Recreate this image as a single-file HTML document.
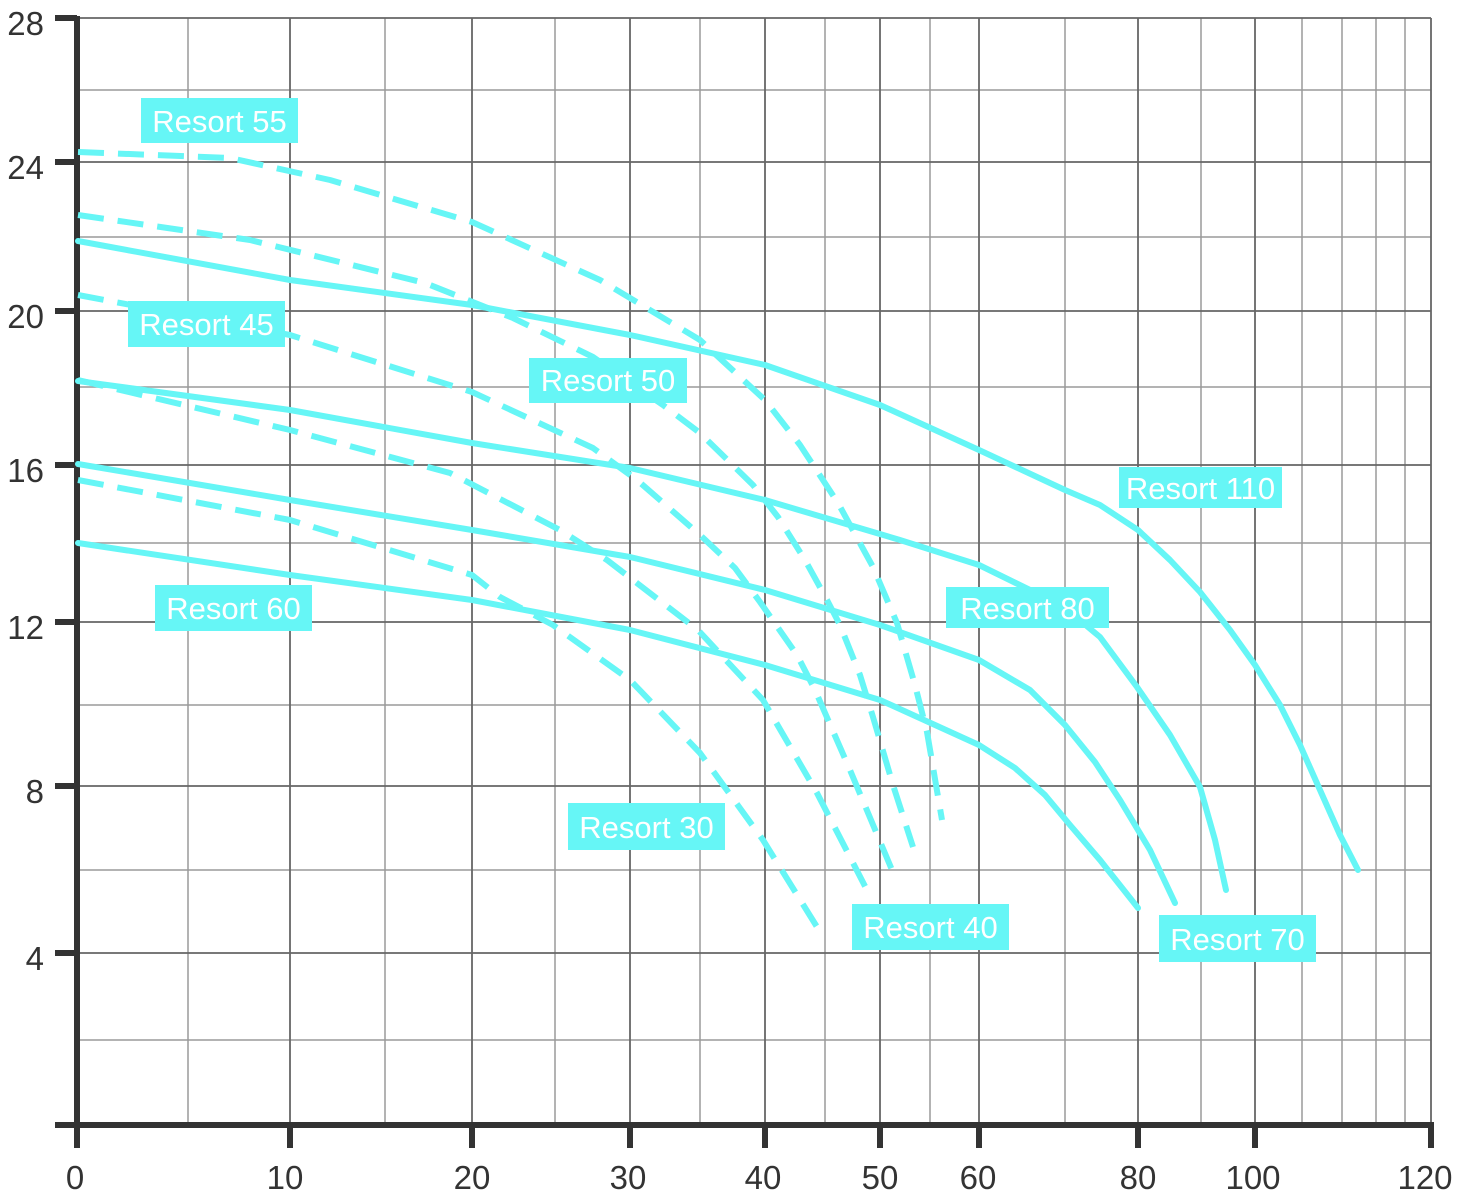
<!DOCTYPE html>
<html><head><meta charset="utf-8"><style>
html,body{margin:0;padding:0;background:#fff;}
svg{display:block;}
</style></head><body>
<svg width="1466" height="1200" viewBox="0 0 1466 1200" xmlns="http://www.w3.org/2000/svg">
<g stroke="#9a9a9a" stroke-width="1.5" fill="none">
<path d="M188 18V1125M385 18V1125M555 18V1125M700 18V1125M825 18V1125M930 18V1125M1065 18V1125M1201 18V1125M1302 18V1125M1342 18V1125M1376 18V1125M1405 18V1125"/>
<path d="M78 90H1431M78 237H1431M78 387H1431M78 543H1431M78 705H1431M78 870H1431M78 1040H1431"/>
</g>
<g stroke="#666" stroke-width="1.8" fill="none">
<path d="M290 18V1125M472 18V1125M630 18V1125M765 18V1125M880 18V1125M979 18V1125M1138 18V1125M1255 18V1125M1431 18V1125"/>
<path d="M78 18H1431M78 162H1431M78 311H1431M78 465H1431M78 622H1431M78 786H1431M78 953H1431"/>
</g>
<g stroke="#333" stroke-width="6" fill="none">
<path d="M77 16V1128"/>
<path d="M55 1125H1434"/>
<path d="M55 18H77M55 162H77M55 311H77M55 465H77M55 622H77M55 786H77M55 953H77"/>
<path d="M77 1125V1148M290 1125V1148M472 1125V1148M630 1125V1148M765 1125V1148M880 1125V1148M979 1125V1148M1138 1125V1148M1255 1125V1148M1431 1125V1148"/>
</g>
<g font-family="Liberation Sans, sans-serif" font-size="33" fill="#333">
<g text-anchor="end">
<text x="44" y="35">28</text><text x="44" y="179">24</text><text x="44" y="328">20</text><text x="44" y="482">16</text><text x="44" y="639">12</text><text x="44" y="803">8</text><text x="44" y="970">4</text>
</g>
<g text-anchor="middle">
<text x="75" y="1189">0</text><text x="285" y="1189">10</text><text x="472" y="1189">20</text><text x="628" y="1189">30</text><text x="763" y="1189">40</text><text x="880" y="1189">50</text><text x="978" y="1189">60</text><text x="1138" y="1189">80</text><text x="1253" y="1189">100</text><text x="1425" y="1189">120</text>
</g>
</g>
<g stroke="#66f6f6" stroke-width="6" fill="none" stroke-linejoin="round" stroke-linecap="round">
<polyline points="78,241 290,280 472,305 630,335 765,365 880,405 979,450 1065,490 1100,505 1138,530 1170,560 1200,592 1230,630 1255,665 1280,705 1300,745 1320,790 1340,835 1358,870"/>
<polyline points="78,381 290,410 472,443 630,468 765,500 900,540 979,565 1030,590 1070,612 1100,637 1137,687 1170,735 1200,787 1215,840 1226,890"/>
<polyline points="78,464 290,500 472,530 630,557 765,590 880,625 979,660 1030,690 1065,725 1095,762 1120,800 1150,850 1175,903"/>
<polyline points="78,543 290,575 472,600 630,630 765,665 880,700 979,745 1015,768 1045,795 1070,825 1100,860 1138,908"/>
</g>
<g stroke="#66f6f6" stroke-width="6" fill="none" stroke-linejoin="round" stroke-dasharray="26,14">
<polyline points="78,152 230,158 330,180 472,222 600,280 700,340 765,400 800,445 838,503 873,567 897,623 915,685 927,732 942,820"/>
<polyline points="78,215 250,240 425,283 513,318 593,357 663,405 700,433 753,485 778,517 805,560 827,600 840,625 860,675 873,717 893,785 913,847"/>
<polyline points="78,295 290,335 472,392 593,448 637,480 700,535 735,568 760,602 797,655 815,690 850,770 892,870"/>
<polyline points="78,380 290,430 450,473 560,530 607,560 698,630 723,657 763,700 817,793 868,892"/>
<polyline points="78,480 290,520 472,575 500,597 553,625 630,680 700,753 763,840 822,935"/>
</g>
<g fill="#66f6f6">
<rect x="141" y="98" width="157" height="45"/>
<rect x="128" y="301" width="157" height="46"/>
<rect x="529" y="358" width="158" height="45"/>
<rect x="1119" y="467" width="163" height="41"/>
<rect x="946" y="587" width="163" height="41"/>
<rect x="155" y="585" width="157" height="46"/>
<rect x="568" y="803" width="157" height="47"/>
<rect x="852" y="904" width="157" height="46"/>
<rect x="1159" y="915" width="157" height="47"/>
</g>
<g font-family="Liberation Sans, sans-serif" font-size="31" fill="#fff" text-anchor="middle">
<text x="219.5" y="132">Resort 55</text>
<text x="206.5" y="335">Resort 45</text>
<text x="608" y="391">Resort 50</text>
<text x="1200.5" y="499">Resort 110</text>
<text x="1027.5" y="619">Resort 80</text>
<text x="233.5" y="619">Resort 60</text>
<text x="646.5" y="838">Resort 30</text>
<text x="930.5" y="938">Resort 40</text>
<text x="1237.5" y="950">Resort 70</text>
</g>
</svg>
</body></html>
